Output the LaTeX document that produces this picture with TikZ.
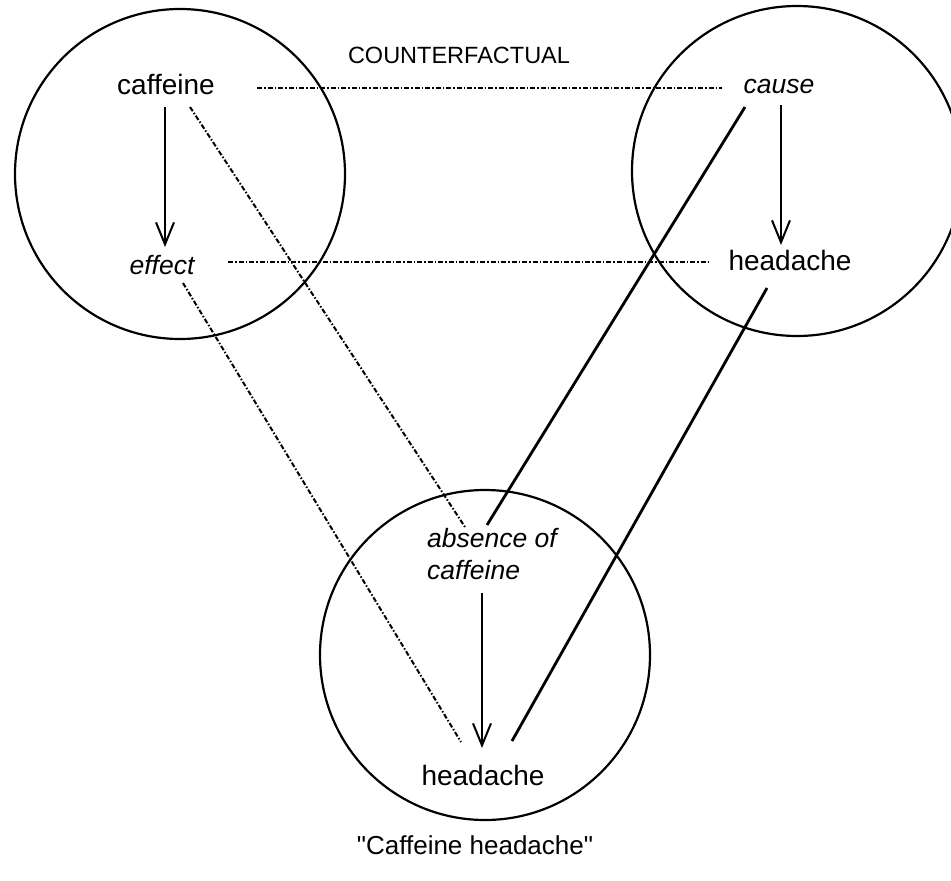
\documentclass[tikz,border=0pt]{standalone}
\usepackage{fontspec}
\setmainfont{Liberation Sans}
\newfontfamily\plainsans{Liberation Sans}
\usetikzlibrary{arrows.meta,calc}
\tikzset{
  circ/.style={draw, line width=2.2pt},
  big/.style={inner sep=0pt, font=\fontsize{28}{32}\selectfont},
  ital/.style={inner sep=0pt, font=\fontsize{26.5}{32}\selectfont\itshape},
  small/.style={inner sep=0pt, font=\fontsize{23.5}{28}\selectfont},
  arr/.style={line width=2pt, -{Straight Barb[length=22pt,width=18pt,line width=2pt]}},
  solidl/.style={line width=2.8pt},
  dd/.style={line width=2pt, dash pattern=on 5pt off 2pt on 1.5pt off 2pt},
}
\begin{document}
\begin{tikzpicture}[x=1pt,y=-1pt]
\useasboundingbox (0,0) rectangle (951,881);
\draw[circ] (180,174) circle[radius=165];
\draw[circ] (797,171) circle[radius=165];
\draw[circ] (485,655) circle[radius=165];

\node[small] (cf) at (459,55) {COUNTERFACTUAL};
\node[big] (caf) at (166,84) {caffeine};
\node[ital] (cause) at (779,86) {cause};
\node[ital] (eff) at (162,265) {effect};
\node[big] (hr) at (790,260) {headache};
\node[ital, align=left, anchor=west] (abs) at (427,554) {absence of\\caffeine};
\node[big] (hb) at (483,775) {headache};
\node[inner sep=0pt, font=\plainsans\fontsize{26}{30}\selectfont] (title) at (475,845) {"Caffeine headache"};

% arrows
\draw[arr] ($(caf)+(-1,23)$) -- ($(eff)+(3,-18)$);
\draw[arr] ($(cause)+(2,19)$) -- ($(hr)+(-9,-15)$);
\draw[arr] ($(abs.west)+(55,39)$) -- ($(hb)+(-1,-27)$);
% solid
\draw[solidl] ($(cause)+(-34,21)$) -- ($(abs.west)+(60,-29)$);
\draw[solidl] ($(hr)+(-23,28)$) -- ($(hb)+(29,-34)$);
% dash-dot
\draw[dd] ($(caf)+(91,4)$) -- ($(cause)+(-57,2)$);
\draw[dd] ($(eff)+(66,-3)$) -- ($(hr)+(-82,2)$);
\draw[dd] ($(caf)+(24,23)$) -- ($(abs.west)+(38,-27)$);
\draw[dd] ($(eff)+(21,18)$) -- ($(hb)+(-22,-33)$);
\end{tikzpicture}
\end{document}
